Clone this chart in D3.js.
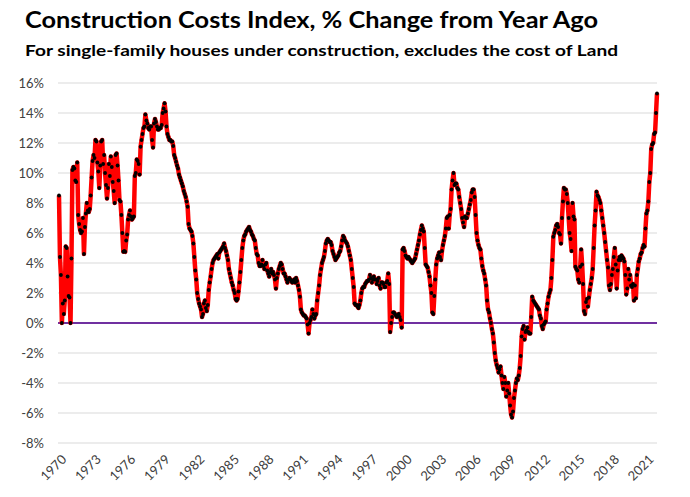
<!DOCTYPE html>
<html>
<head>
<meta charset="utf-8">
<script src="https://cdn.jsdelivr.net/npm/d3@7"></script>
<style>
  body { margin: 0; background: #fff; }
  text { font-family: Lato, "Open Sans", sans-serif; }
</style>
</head>
<body>
<div id="chart"></div>
<script>
var vWidth = 690;
var vHeight = 497;

// monthly % change from year ago, Jan 1970 .. Dec 2021 (one row per year)
var startYear = 1970;
var pctChange = [
  8.5, 4.4, 3.2, 0.0, 1.3, 0.6, 1.5, 5.1, 5.0, 3.1, 1.8, 1.7,       // 1970
  0.0, 4.3, 10.2, 10.4, 10.3, 9.5, 9.4, 10.7, 7.2, 6.6, 6.2, 6.0,   // 1971
  6.1, 7.0, 4.6, 6.4, 7.3, 8.0, 7.5, 7.4, 7.6, 8.5, 9.7, 10.8,      // 1972
  11.2, 11.0, 12.2, 12.1, 10.7, 10.1, 9.0, 10.5, 12.1, 12.2, 10.6, 11.2, // 1973
  10.0, 9.2, 8.3, 9.0, 10.6, 9.8, 11.1, 10.4, 9.4, 8.8, 8.0, 11.2,  // 1974
  11.3, 10.5, 9.5, 8.2, 8.1, 7.2, 6.0, 4.75, 4.8, 4.75, 5.5, 5.9,   // 1975
  6.9, 7.2, 7.5, 7.1, 6.9, 7.0, 7.1, 9.8, 10.0, 10.9, 10.8, 10.6,   // 1976
  9.9, 11.75, 12.2, 12.6, 13.0, 13.1, 13.9, 13.5, 13.3, 13.0, 12.9, 13.1, // 1977
  13.1, 12.2, 11.7, 13.3, 13.6, 13.4, 13.1, 12.9, 12.9, 13.0, 13.0, 13.2, // 1978
  14.0, 14.3, 14.65, 14.1, 13.1, 12.6, 12.4, 12.2, 12.2, 12.1, 12.1, 11.8, // 1979
  11.2, 11.0, 10.75, 10.5, 10.3, 9.9, 9.7, 9.5, 9.3, 9.1, 8.8, 8.6, // 1980
  8.4, 8.1, 7.75, 6.6, 6.3, 6.2, 6.1, 5.8, 5.3, 4.4, 3.5, 2.9,      // 1981
  2.0, 1.6, 1.3, 1.1, 0.9, 0.4, 0.6, 1.3, 1.5, 1.0, 0.8, 1.2,       // 1982
  2.2, 2.7, 3.1, 3.6, 4.0, 4.2, 4.3, 4.4, 4.5, 4.6, 4.3, 4.7,       // 1983
  4.8, 4.9, 5.0, 5.1, 5.3, 5.0, 4.8, 4.5, 4.2, 3.6, 3.3, 3.0,       // 1984
  2.7, 2.5, 2.2, 2.0, 1.6, 1.5, 1.6, 2.1, 2.7, 3.4, 4.2, 5.0,       // 1985
  5.5, 5.8, 5.9, 6.1, 6.2, 6.3, 6.4, 6.2, 6.1, 5.9, 5.8, 5.6,       // 1986
  5.5, 5.0, 4.6, 4.5, 4.0, 3.8, 3.8, 3.9, 4.2, 3.8, 3.6, 3.9,       // 1987
  4.0, 3.5, 3.3, 3.1, 3.4, 3.6, 3.3, 3.4, 3.2, 2.9, 2.3, 3.0,       // 1988
  3.3, 3.6, 3.8, 4.0, 3.9, 3.6, 3.3, 3.3, 3.1, 2.9, 2.7, 2.9,       // 1989
  3.0, 2.9, 2.8, 2.7, 2.8, 2.9, 2.7, 3.0, 2.8, 2.5, 2.2, 1.75,      // 1990
  0.9, 0.7, 0.6, 0.5, 0.5, 0.4, 0.3, -0.1, -0.7, 0.0, 0.2, 0.4,     // 1991
  0.9, 0.6, 0.3, 0.5, 0.6, 1.5, 2.0, 2.5, 3.2, 3.6, 4.0, 4.2,       // 1992
  4.4, 4.8, 5.3, 5.5, 5.6, 5.5, 5.4, 5.4, 5.2, 4.8, 4.6, 4.4,       // 1993
  4.2, 4.3, 4.4, 4.5, 4.7, 4.8, 5.1, 5.5, 5.8, 5.7, 5.5, 5.4,       // 1994
  5.3, 5.1, 4.8, 4.5, 4.2, 3.6, 3.0, 2.4, 1.3, 1.2, 1.2, 1.1,       // 1995
  1.0, 1.2, 1.5, 2.0, 2.3, 2.4, 2.4, 2.6, 2.7, 2.8, 2.8, 2.9,       // 1996
  3.2, 3.0, 2.7, 2.9, 3.1, 2.9, 2.9, 2.6, 2.8, 3.0, 2.5, 2.3,       // 1997
  2.7, 2.7, 2.6, 2.4, 2.4, 2.7, 2.8, 3.3, 2.6, -0.6, 0.0, 0.4,      // 1998
  0.7, 0.7, 0.6, 0.5, 0.4, 0.5, 0.6, 0.4, 0.2, -0.3, 4.9, 5.0,      // 1999
  4.8, 4.5, 4.4, 4.3, 4.4, 4.3, 4.2, 4.1, 4.0, 4.1, 4.2, 4.3,       // 2000
  4.6, 4.9, 5.2, 5.5, 5.9, 6.2, 6.5, 6.3, 6.1, 5.0, 3.9, 3.8,       // 2001
  3.7, 3.4, 3.1, 2.5, 2.0, 0.7, 0.6, 1.8, 2.9, 3.9, 4.3, 4.5,       // 2002
  4.7, 4.4, 4.2, 4.8, 5.2, 5.5, 5.8, 6.3, 7.0, 7.1, 6.3, 7.2,       // 2003
  7.6, 8.9, 9.5, 10.0, 9.2, 9.3, 9.3, 9.0, 8.9, 8.4, 8.0, 7.6,      // 2004
  7.0, 6.7, 6.4, 7.1, 7.0, 7.0, 7.3, 7.6, 7.9, 8.2, 8.7, 8.9,       // 2005
  8.9, 8.4, 7.2, 6.0, 5.5, 5.2, 5.0, 4.9, 4.3, 3.8, 3.5, 3.3,       // 2006
  2.9, 2.5, 1.5, 0.9, 0.7, 0.3, 0.0, -0.4, -0.7, -1.3, -2.0, -2.5,  // 2007
  -2.8, -3.0, -3.3, -3.1, -2.9, -3.5, -4.0, -4.4, -3.6, -4.0, -4.9, -4.5, // 2008
  -4.0, -4.7, -5.5, -6.1, -6.3, -5.9, -5.0, -4.5, -4.0, -3.7, -3.8, -3.5, // 2009
  -3.0, -2.2, -0.9, -0.4, -0.2, -1.1, -0.6, -0.5, -0.3, -0.6, -0.7, -0.7, // 2010
  0.4, 1.75, 1.5, 1.4, 1.3, 1.2, 1.1, 1.0, 0.9, 0.5, 0.3, -0.2,     // 2011
  -0.4, -0.1, 0.0, 0.1, 0.9, 1.3, 1.75, 2.0, 2.2, 3.0, 4.2, 5.75,   // 2012
  6.0, 6.2, 6.5, 6.6, 6.4, 6.0, 5.9, 5.3, 7.0, 8.1, 9.0, 8.9,       // 2013
  8.9, 8.6, 8.0, 7.0, 6.0, 5.6, 4.8, 8.0, 7.1, 6.9, 3.75, 3.6,      // 2014
  3.5, 2.9, 2.7, 3.75, 4.9, 3.9, 2.6, 0.8, 0.6, 1.4, 1.6, 1.1,      // 2015
  1.7, 2.2, 2.6, 3.0, 3.6, 5.0, 6.5, 7.5, 8.75, 8.5, 8.4, 8.2,      // 2016
  8.0, 7.5, 7.0, 6.5, 6.0, 5.4, 4.8, 4.2, 3.7, 2.5, 2.2, 2.6,       // 2017
  3.2, 3.6, 4.4, 5.0, 3.9, 2.3, 3.5, 4.2, 4.4, 4.2, 4.5, 4.4,       // 2018
  4.3, 4.1, 3.2, 1.9, 2.3, 3.6, 2.9, 3.2, 2.5, 2.4, 2.6, 1.5,       // 2019
  2.5, 1.65, 3.2, 3.6, 4.1, 4.3, 4.6, 4.7, 5.0, 5.2, 5.1, 6.3,      // 2020
  7.3, 7.5, 8.1, 9.4, 10.0, 11.6, 11.9, 12.0, 12.6, 12.7, 14.0, 15.3 // 2021
];

var yTicks = [-8, -6, -4, -2, 0, 2, 4, 6, 8, 10, 12, 14, 16];
var xTickYears = [1970, 1973, 1976, 1979, 1982, 1985, 1988, 1991, 1994,
                  1997, 2000, 2003, 2006, 2009, 2012, 2015, 2018, 2021];

var svg = d3.select("#chart")
    .append("svg")
    .attr("width", vWidth)
    .attr("height", vHeight);

var x = d3.scaleLinear().domain([0, pctChange.length - 1]).range([59, 657]);
var y = d3.scaleLinear().domain([-8, 16]).range([443, 83]);

// titles
svg.append("text")
    .attr("x", 25).attr("y", 28)
    .attr("font-size", 22).attr("font-weight", "bold").attr("fill", "#000")
    .attr("textLength", 573).attr("lengthAdjust", "spacingAndGlyphs")
    .text("Construction  Costs Index, % Change from Year Ago");

svg.append("text")
    .attr("x", 25).attr("y", 56)
    .attr("font-size", 16).attr("font-weight", "bold").attr("fill", "#000")
    .attr("textLength", 593).attr("lengthAdjust", "spacingAndGlyphs")
    .text("For single-family houses under construction, excludes the cost of Land");

// gridlines
svg.append("g").selectAll("line")
    .data(yTicks.filter(d => d !== 0))
    .enter().append("line")
    .attr("x1", 58).attr("x2", 657)
    .attr("y1", d => y(d)).attr("y2", d => y(d))
    .attr("stroke", "#d9d9d9").attr("stroke-width", 1);

// y labels
svg.append("g").selectAll("text")
    .data(yTicks)
    .enter().append("text")
    .attr("x", 44)
    .attr("y", d => y(d) + 4.5)
    .attr("text-anchor", "end")
    .attr("font-size", 13).attr("fill", "#404040")
    .text(d => d + "%");

// x labels, rotated
svg.append("g").selectAll("text")
    .data(xTickYears)
    .enter().append("text")
    .attr("text-anchor", "end")
    .attr("font-size", 13).attr("fill", "#404040")
    .attr("transform", d => "translate(" + (x((d - startYear) * 12) + 5) + ",457) rotate(-45)")
    .attr("dy", "0.35em")
    .text(d => d);

// zero line
svg.append("line")
    .attr("x1", 58).attr("x2", 657)
    .attr("y1", y(0)).attr("y2", y(0))
    .attr("stroke", "#7030a0").attr("stroke-width", 2);

// series
var line = d3.line()
    .x((d, i) => x(i))
    .y(d => y(d));

svg.append("path")
    .datum(pctChange)
    .attr("d", line)
    .attr("fill", "none")
    .attr("stroke", "#ff0000")
    .attr("stroke-width", 4.5)
    .attr("stroke-linejoin", "round");

svg.append("g").selectAll("circle")
    .data(pctChange)
    .enter().append("circle")
    .attr("cx", (d, i) => x(i))
    .attr("cy", d => y(d))
    .attr("r", 1.9)
    .attr("fill", "#000");
</script>
</body>
</html>
